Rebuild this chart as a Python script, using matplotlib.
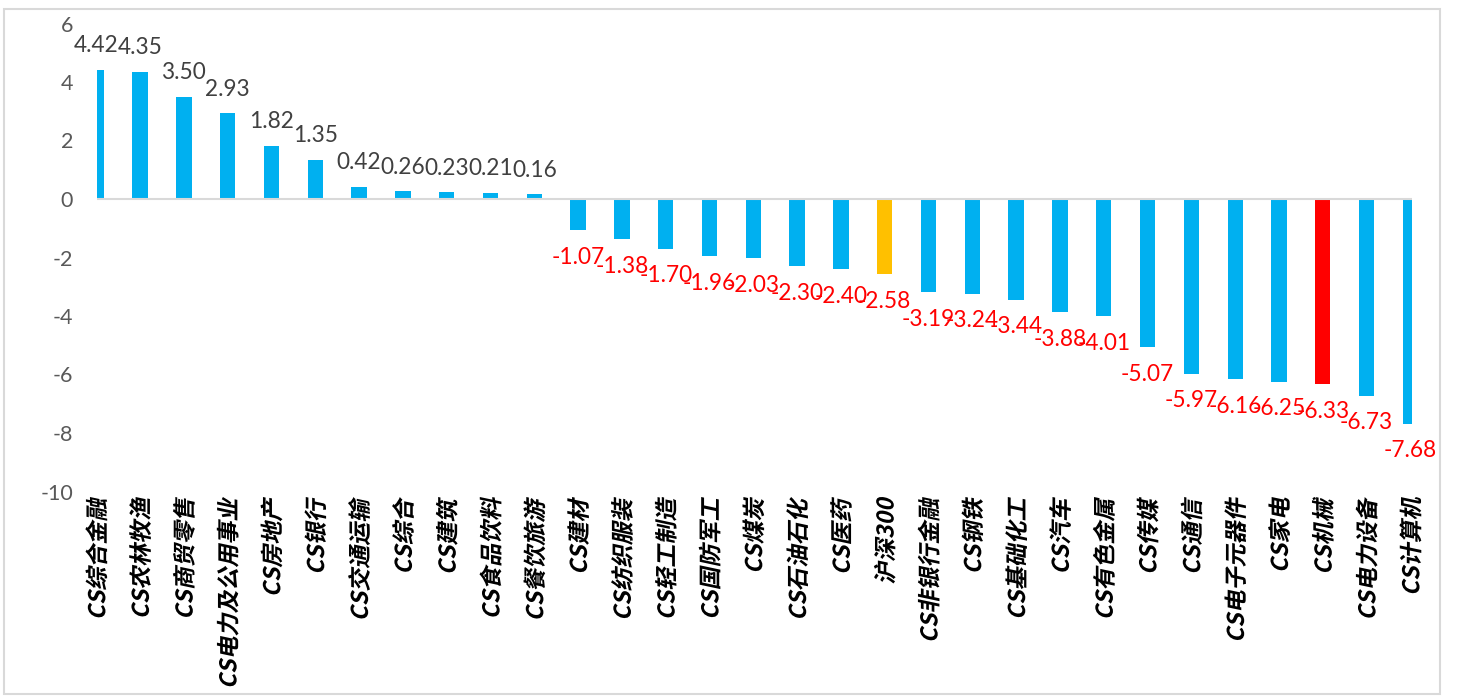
import numpy as np
import matplotlib
matplotlib.use("Agg")
import matplotlib.pyplot as plt
from matplotlib.textpath import TextPath
from matplotlib.patches import PathPatch, Rectangle
from matplotlib.font_manager import FontProperties
from matplotlib.transforms import Affine2D, IdentityTransform

categories = [
    "CS综合金融", "CS农林牧渔", "CS商贸零售", "CS电力及公用事业", "CS房地产",
    "CS银行", "CS交通运输", "CS综合", "CS建筑", "CS食品饮料", "CS餐饮旅游",
    "CS建材", "CS纺织服装", "CS轻工制造", "CS国防军工", "CS煤炭", "CS石油石化",
    "CS医药", "沪深300", "CS非银行金融", "CS钢铁", "CS基础化工", "CS汽车",
    "CS有色金属", "CS传媒", "CS通信", "CS电子元器件", "CS家电", "CS机械",
    "CS电力设备", "CS计算机",
]
values = [
    4.42, 4.35, 3.50, 2.93, 1.82, 1.35, 0.42, 0.26, 0.23, 0.21, 0.16,
    -1.07, -1.38, -1.70, -1.96, -2.03, -2.30, -2.40, -2.58, -3.19, -3.24,
    -3.44, -3.88, -4.01, -5.07, -5.97, -6.16, -6.25, -6.33, -6.73, -7.68,
]
y_ticks = [6, 4, 2, 0, -2, -4, -6, -8, -10]

BLUE = "#00B0F0"
GOLD = "#FFC000"
RED = "#FF0000"
highlight = {"沪深300": GOLD, "CS机械": RED}
colors = [highlight.get(c, BLUE) for c in categories]

W, H, DPI = 1459, 698, 100
fig = plt.figure(figsize=(W / DPI, H / DPI), dpi=DPI)

# plot area in pixel terms
left_px, right_px = 96.7, 1411.7
top_px, bottom_px = 23.5, 491.5
ax = fig.add_axes([left_px / W, (H - bottom_px) / H,
                   (right_px - left_px) / W, (bottom_px - top_px) / H])

x = np.arange(len(categories))
ax.bar(x, values, width=0.35, color=colors, zorder=2)
ax.set_xlim(0.01, len(categories) - 1 + 0.03)
ax.set_ylim(-10, 6)
ax.axhline(0, color="#D9D9D9", lw=1.5, zorder=3)

for s in ax.spines.values():
    s.set_visible(False)
ax.set_xticks([])
ax.set_yticks(y_ticks)
ax.set_yticklabels([str(t) for t in y_ticks], fontfamily="Lato",
                   fontsize=15.5, color="#595959")
ax.tick_params(axis="y", length=0, pad=17)

# value labels above / below each bar
for xi, v in zip(x, values):
    if v >= 0:
        off, col = 24, "#404040"
    else:
        off, col = -27, RED
    ax.annotate(f"{v:.2f}", (xi, v), xytext=(0, off), textcoords="offset pixels",
                ha="center", va="center", fontsize=16.3, fontfamily="Lato",
                color=col, annotation_clip=False, zorder=4)

# rotated, slanted category labels drawn as text paths
fp = FontProperties(family="Noto Sans CJK SC", weight="bold")
label_top = H - 497
for xi, name in zip(x, categories):
    tp = TextPath((0, 0), name, size=23.0, prop=fp)
    path = Affine2D().skew_deg(12, 0).rotate_deg(90).transform_path(tp)
    ext = path.get_extents()
    cx = ax.transData.transform((xi, 0))[0]
    path = Affine2D().translate(cx - (ext.x0 + ext.x1) / 2,
                                label_top - ext.y1).transform_path(path)
    fig.add_artist(PathPatch(path, transform=IdentityTransform(),
                             facecolor="black", edgecolor="none", lw=0))

# light frame around the chart
fig.add_artist(Rectangle((4 / W, 4 / H), (1440 - 4) / W, (694 - 9) / H,
                         transform=fig.transFigure, fill=False,
                         edgecolor="#D9D9D9", lw=1.5))

fig.savefig("out.png", dpi=DPI)
